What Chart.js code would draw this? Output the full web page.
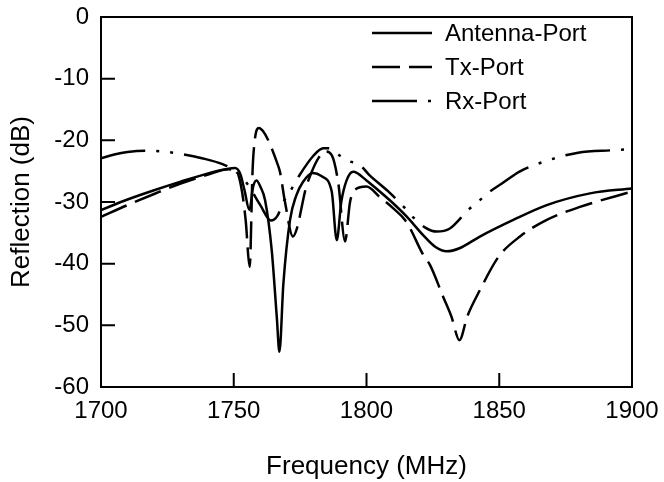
<!DOCTYPE html>
<html>
<head>
<meta charset="utf-8">
<script src="https://cdn.jsdelivr.net/npm/chart.js@4.4.0/dist/chart.umd.min.js"></script>
<style>
    html, body { margin: 0; padding: 0; background: #fff; }
</style>
</head>
<body>
<canvas id="graficoReflexao" width="664" height="482"></canvas>
<script>
// Dados (frequência em MHz, reflexão em dB)
const freqAntena = [1700, 1710, 1720, 1730, 1740, 1747, 1750.5, 1752.5, 1754, 1755.9, 1757.3, 1758.6, 1760, 1761.8, 1764.3, 1766.2, 1767.2, 1768.7, 1771.2, 1773.5, 1776, 1779.8, 1783, 1786.9, 1788.8, 1790.5, 1792.5, 1795, 1800, 1805, 1810, 1815, 1821.4, 1826, 1830.2, 1835, 1842.7, 1855.3, 1867.9, 1884.2, 1900];
const antena = [-31.3, -29.6, -28.1, -26.7, -25.4, -24.7, -24.5, -25.5, -28, -31.3, -27.5, -26.5, -27.5, -29.7, -37.8, -48.6, -54.3, -43.2, -32.9, -29, -26.8, -25.3, -25.8, -28.3, -36.2, -30, -26.5, -25.1, -26.5, -28.3, -30.2, -32.3, -35.4, -37.3, -38, -37.5, -35.6, -32.9, -30.5, -28.6, -27.8];

const freqTx = [1700, 1710, 1720, 1730, 1740, 1748, 1751, 1753, 1754.5, 1756, 1757.1, 1758, 1759.5, 1761, 1763, 1766.2, 1767.4, 1769.3, 1772.3, 1774, 1775.5, 1777, 1779, 1782, 1784.5, 1786.9, 1789.4, 1791.9, 1793.8, 1795.7, 1800, 1805, 1810, 1815, 1821.4, 1823.9, 1828.9, 1832, 1835, 1838, 1842.7, 1849.7, 1857.8, 1867.9, 1880.4, 1900];
const tx = [-32.4, -30.5, -28.7, -27, -25.6, -24.7, -25, -28, -33, -40.5, -24.8, -19.7, -18, -18.5, -20, -23.5, -25.1, -30, -35.6, -34, -31, -28, -25.5, -22.8, -21.8, -22.4, -27, -36.4, -30, -28, -27.5, -29.2, -31, -33.2, -38.6, -40.2, -45.4, -48.6, -52.4, -48.5, -44.3, -38.9, -35.6, -32.9, -30.8, -28.3];

const freqRx = [1700, 1705, 1710, 1716.6, 1723, 1730, 1738, 1746, 1750, 1755, 1760, 1764, 1766.5, 1768.7, 1770.4, 1775, 1780, 1783.7, 1786, 1790, 1793, 1797.5, 1801, 1808, 1814.5, 1817.6, 1822.3, 1826.4, 1831.4, 1838.3, 1842.4, 1846.5, 1851, 1858, 1866.6, 1879.7, 1892.8, 1900];
const rx = [-22.9, -22.3, -21.9, -21.7, -21.8, -22.2, -22.9, -23.9, -24.8, -27, -30.5, -33, -32.2, -30, -28.9, -25.5, -22.5, -21.3, -21.3, -22.5, -23.3, -24, -25.6, -28.2, -31, -32.5, -34.2, -34.8, -34.3, -31.3, -29.8, -28.3, -27, -25, -23.5, -22, -21.6, -21.4];

const nomesSeries = ['Antenna-Port', 'Tx-Port', 'Rx-Port'];
const ticksX = [1700, 1750, 1800, 1850, 1900];
const ticksY = [0, -10, -20, -30, -40, -50, -60];

const FONTE = "'Liberation Sans', Arial, sans-serif";

function pontos(xs, ys) {
    return xs.map((x, i) => ({ x: x, y: ys[i] }));
}

/**
 * Moldura, marcas internas dos eixos e legenda dentro do gráfico
 */
const molduraPlugin = {
    id: 'moldura',
    afterDatasetsDraw(chart) {
        const { ctx, chartArea: a, scales } = chart;
        ctx.save();
        ctx.strokeStyle = '#000';
        ctx.lineWidth = 2;
        ctx.setLineDash([]);
        ctx.strokeRect(a.left, a.top, a.right - a.left, a.bottom - a.top);

        // marcas para dentro
        const tam = 14;
        ctx.beginPath();
        ticksY.slice(1, -1).forEach(v => {
            const y = scales.y.getPixelForValue(v);
            ctx.moveTo(a.left, y);
            ctx.lineTo(a.left + tam, y);
        });
        ticksX.slice(1, -1).forEach(v => {
            const x = scales.x.getPixelForValue(v);
            ctx.moveTo(x, a.bottom);
            ctx.lineTo(x, a.bottom - tam);
        });
        ctx.stroke();

        // legenda
        ctx.font = '24px ' + FONTE;
        ctx.fillStyle = '#000';
        ctx.textBaseline = 'middle';
        chart.data.datasets.forEach((ds, i) => {
            const y = 33 + i * 34;
            ctx.lineWidth = ds.borderWidth;
            ctx.setLineDash(ds.borderDash || []);
            ctx.beginPath();
            ctx.moveTo(372, y);
            ctx.lineTo(432, y);
            ctx.stroke();
            ctx.setLineDash([]);
            ctx.fillText(ds.label, 445, y + 1);
        });
        ctx.restore();
    }
};

const ctx = document.getElementById('graficoReflexao').getContext('2d');
new Chart(ctx, {
    type: 'line',
    data: {
        datasets: [
            {
                label: nomesSeries[0],
                data: pontos(freqAntena, antena),
                borderColor: '#000',
                borderWidth: 2.5,
                borderDash: []
            },
            {
                label: nomesSeries[1],
                data: pontos(freqTx, tx),
                borderColor: '#000',
                borderWidth: 2.5,
                borderDash: [28, 9]
            },
            {
                label: nomesSeries[2],
                data: pontos(freqRx, rx),
                borderColor: '#000',
                borderWidth: 2.5,
                borderDash: [45, 11, 3, 11, 3, 11]
            }
        ]
    },
    options: {
        responsive: false,
        animation: false,
        elements: { point: { radius: 0 }, line: { cubicInterpolationMode: 'monotone', fill: false } },
        layout: { padding: { left: 0, top: 17, right: 32, bottom: 0 } },
        plugins: {
            legend: { display: false },
            tooltip: { enabled: false }
        },
        scales: {
            x: {
                type: 'linear',
                min: 1700,
                max: 1900,
                afterBuildTicks: s => { s.ticks = ticksX.map(v => ({ value: v })); },
                afterFit: s => {
                    s.height = 95;
                    s.paddingLeft = 0;
                    s.paddingRight = 0;
                },
                grid: { display: false, drawTicks: false },
                border: { display: false },
                ticks: {
                    color: '#000',
                    font: { family: FONTE, size: 24 },
                    padding: 10,
                    maxRotation: 0,
                    callback: v => String(v)
                },
                title: {
                    display: true,
                    text: 'Frequency (MHz)',
                    color: '#000',
                    font: { family: FONTE, size: 26 },
                    padding: { top: 0, bottom: 0 }
                }
            },
            y: {
                type: 'linear',
                min: -60,
                max: 0,
                afterBuildTicks: s => { s.ticks = ticksY.map(v => ({ value: v })); },
                afterFit: s => {
                    s.width = 101;
                    s.paddingTop = 0;
                    s.paddingBottom = 0;
                },
                grid: { display: false, drawTicks: false },
                border: { display: false },
                ticks: {
                    color: '#000',
                    font: { family: FONTE, size: 24 },
                    padding: 12,
                    callback: v => String(v)
                },
                title: {
                    display: true,
                    text: 'Reflection (dB)',
                    color: '#000',
                    font: { family: FONTE, size: 26 },
                    padding: { top: 6, bottom: 0 }
                }
            }
        }
    },
    plugins: [molduraPlugin]
});
</script>
</body>
</html>
